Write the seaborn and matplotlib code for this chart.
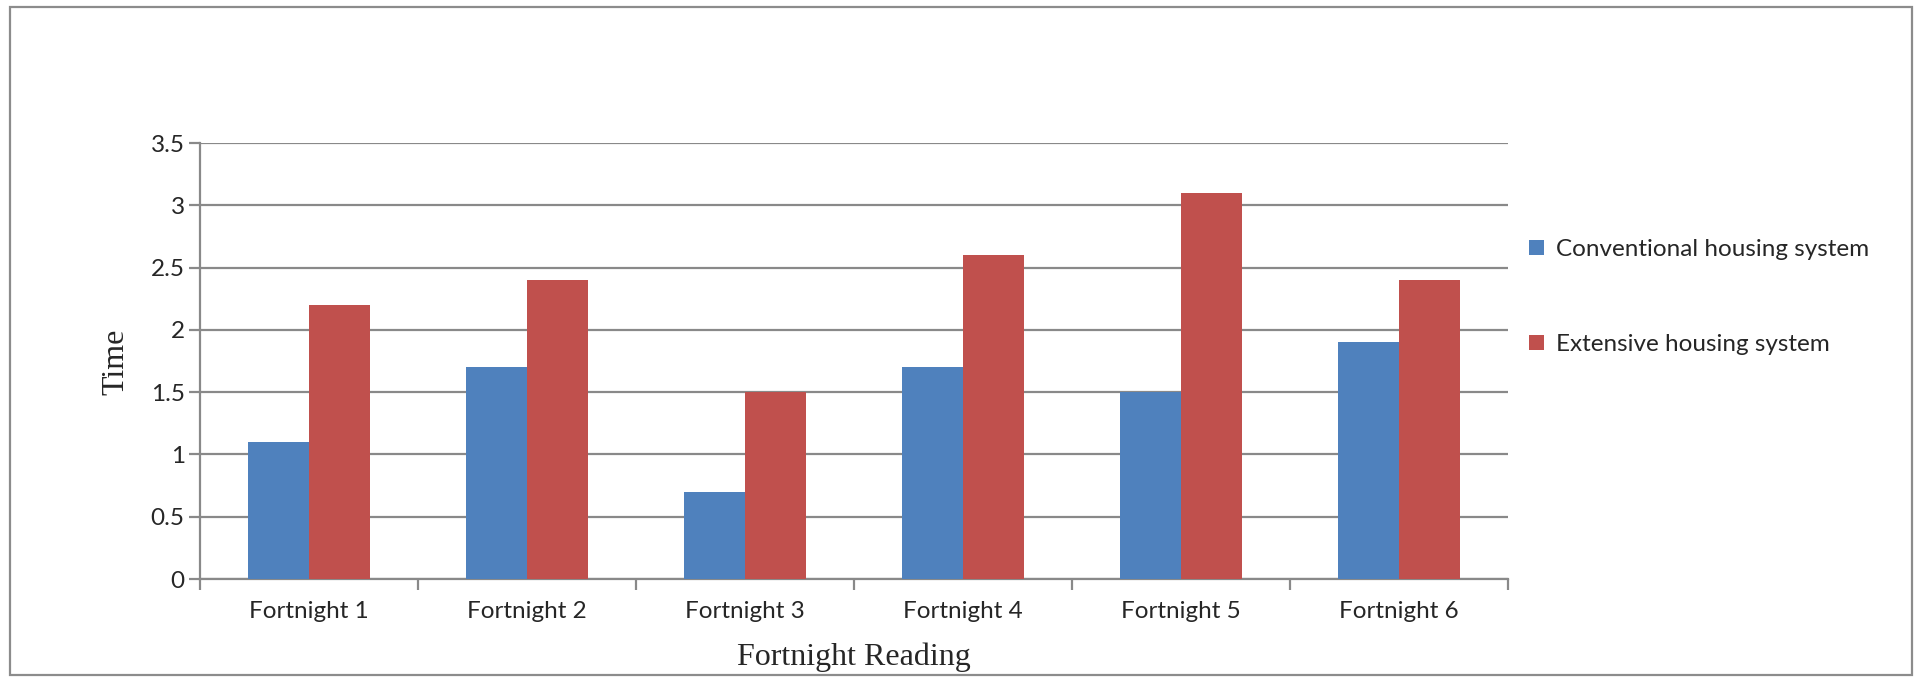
import matplotlib
matplotlib.use("Agg")
import matplotlib.pyplot as plt
from matplotlib.patches import Rectangle, Patch
import seaborn as sns
import pandas as pd

categories = ["Fortnight 1", "Fortnight 2", "Fortnight 3", "Fortnight 4", "Fortnight 5", "Fortnight 6"]
series_names = ["Conventional housing system", "Extensive housing system"]
conventional = [1.1, 1.7, 0.7, 1.7, 1.5, 1.9]
extensive = [2.2, 2.4, 1.5, 2.6, 3.1, 2.4]
y_ticks = [0, 0.5, 1, 1.5, 2, 2.5, 3, 3.5]
y_tick_labels = ["0", "0.5", "1", "1.5", "2", "2.5", "3", "3.5"]
colors = ["#4F81BD", "#C0504D"]

df = pd.DataFrame({
    "Fortnight": categories * 2,
    "System": [series_names[0]] * len(categories) + [series_names[1]] * len(categories),
    "Time": conventional + extensive,
})

sns.set_theme(style="white")
plt.rcParams["font.family"] = ["Lato", "DejaVu Sans"]

W, H = 1922, 678
fig = plt.figure(figsize=(W / 100, H / 100), dpi=100)
ax = fig.add_axes([200 / W, 1 - 579 / H, (1508 - 200) / W, (579 - 143) / H])

sns.barplot(data=df, x="Fortnight", y="Time", hue="System", order=categories,
            hue_order=series_names, palette=colors, width=0.56, saturation=1,
            linewidth=0, ax=ax, legend=False, zorder=3)

grid_c = "#898989"
tick_fs = 17.5
ax.set_ylim(0, 3.5)
ax.set_xlim(-0.5, len(categories) - 0.5)
ax.set_yticks(y_ticks)
ax.set_yticklabels(y_tick_labels, fontsize=tick_fs)
ax.yaxis.grid(True, color=grid_c, linewidth=1.6, zorder=0)
ax.set_axisbelow(True)

# category ticks sit on the boundaries between groups
ax.set_xticks(range(len(categories)))
ax.set_xticklabels(categories, fontsize=tick_fs)
ax.tick_params(axis="x", which="major", length=0, pad=16)
ax.set_xticks([i - 0.5 for i in range(len(categories) + 1)], minor=True)
ax.tick_params(axis="x", which="minor", length=8, width=1.6, color=grid_c, direction="out", bottom=True)
ax.tick_params(axis="y", length=8, width=1.6, color=grid_c, direction="out", left=True, pad=3)

for side in ["top", "right"]:
    ax.spines[side].set_visible(False)
for side in ["left", "bottom"]:
    ax.spines[side].set_color(grid_c)
    ax.spines[side].set_linewidth(1.6)

serif = ["Liberation Serif", "DejaVu Serif"]
ax.set_xlabel("")
ax.set_ylabel("")
fig.text(854 / W, 1 - 657 / H, "Fortnight Reading", ha="center", va="center",
         fontsize=23, family=serif)
fig.text(116 / W, 1 - 362 / H, "Time", ha="center", va="center", rotation=90,
         fontsize=23, family=serif)

handles = [Patch(facecolor=c, edgecolor="none") for c in colors]
fig.legend(handles, series_names, loc="center left", bbox_to_anchor=(1529 / W, 1 - 297 / H),
           frameon=False, fontsize=tick_fs, handlelength=0.62, handleheight=0.62,
           handletextpad=0.5, labelspacing=3.05, borderpad=0, borderaxespad=0)

# outer chart border
fig.add_artist(Rectangle((10 / W, 1 - 675 / H), (1912 - 10) / W, (675 - 7) / H,
                         transform=fig.transFigure, fill=False,
                         edgecolor="#8c8c8c", linewidth=1.6))

fig.savefig("out.png", dpi=100)
